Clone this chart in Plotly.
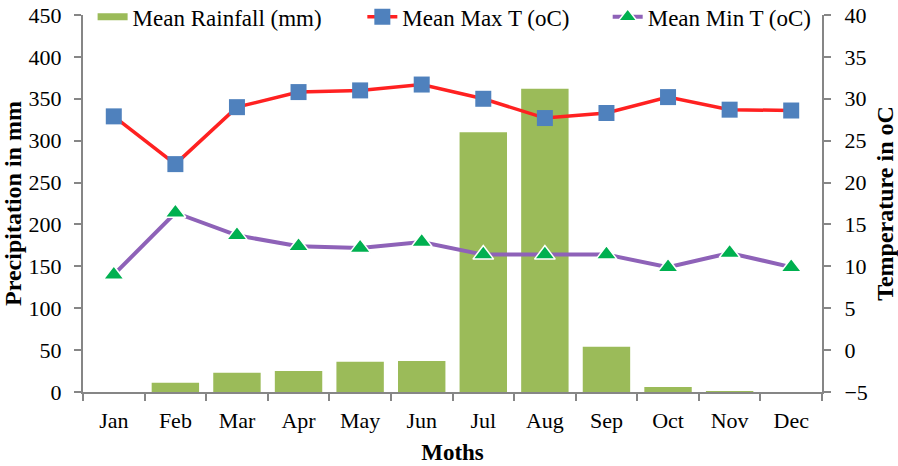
import plotly.graph_objects as go

months = ["Jan", "Feb", "Mar", "Apr", "May", "Jun", "Jul", "Aug", "Sep", "Oct", "Nov", "Dec"]
rainfall = [0, 11, 23, 25, 36, 37, 310, 362, 54, 6, 1, 0]
max_t = [27.9, 22.2, 29.0, 30.8, 31.0, 31.7, 30.0, 27.7, 28.3, 30.2, 28.7, 28.6]
min_t = [9.0, 16.4, 13.7, 12.4, 12.2, 12.9, 11.4, 11.4, 11.4, 9.9, 11.6, 9.9]

FONT = "Liberation Serif"
AXIS_COLOR = "#868686"
BAR_COLOR = "#9BBB59"
TICK_SIZE = 22

fig = go.Figure()

fig.add_trace(go.Bar(
    x=months, y=rainfall, name="Mean Rainfall (mm)",
    marker=dict(color=BAR_COLOR, line=dict(width=0)),
    showlegend=False, yaxis="y",
))
# legend entry for rainfall drawn as a thick line (like the original)
fig.add_trace(go.Scatter(
    x=[None], y=[None], mode="lines", name="Mean Rainfall (mm)",
    line=dict(color=BAR_COLOR, width=7), yaxis="y", legend="legend",
))
fig.add_trace(go.Scatter(
    x=months, y=max_t, name="Mean Max T (oC)", mode="lines+markers",
    line=dict(color="#FF2121", width=3.5),
    marker=dict(symbol="square", size=16, color="#4F81BD", line=dict(width=0)),
    yaxis="y2", legend="legend2",
))
fig.add_trace(go.Scatter(
    x=months, y=min_t, name="Mean Min T (oC)", mode="lines+markers",
    line=dict(color="#8E62B8", width=4),
    marker=dict(symbol="triangle-up", size=18, color="#00B050", line=dict(width=1.5, color="white")),
    yaxis="y2", legend="legend3",
))

leg_common = dict(
    orientation="h", xanchor="left", y=0.995, yanchor="middle",
    bgcolor="rgba(0,0,0,0)", font=dict(family=FONT, size=23, color="black"),
    borderwidth=0,
)

fig.update_layout(
    width=898, height=466,
    margin=dict(l=83, r=76, t=15, b=74, autoexpand=False),
    paper_bgcolor="white", plot_bgcolor="white",
    font=dict(family=FONT, size=TICK_SIZE, color="black"),
    bargap=0.23,
    showlegend=True,
    legend=dict(x=0.013, **leg_common),
    legend2=dict(x=0.378, **leg_common),
    legend3=dict(x=0.71, **leg_common),
    xaxis=dict(
        type="category", range=[-0.5, 11.5],
        showline=True, linecolor=AXIS_COLOR, linewidth=2,
        ticks="outside", tickson="boundaries", ticklen=7, tickcolor=AXIS_COLOR, tickwidth=2,
        showgrid=False, zeroline=False, automargin=False,
        ticklabelstandoff=8,
        title=dict(text="<b>Moths</b>", font=dict(family=FONT, size=23), standoff=11),
        tickfont=dict(family=FONT, size=TICK_SIZE),
    ),
    yaxis=dict(
        range=[0, 450], dtick=50, tick0=0,
        showline=True, linecolor=AXIS_COLOR, linewidth=2,
        ticks="outside", ticklen=7, tickcolor=AXIS_COLOR, tickwidth=2,
        showgrid=False, zeroline=False, automargin=False,
        ticklabelstandoff=8,
        title=dict(text="<b>Precipitation in mm</b>", font=dict(family=FONT, size=24), standoff=8),
        tickfont=dict(family=FONT, size=TICK_SIZE),
    ),
    yaxis2=dict(
        range=[-5, 40], dtick=5, tick0=-5, overlaying="y", side="right",
        showline=True, linecolor=AXIS_COLOR, linewidth=2,
        ticks="outside", ticklen=7, tickcolor=AXIS_COLOR, tickwidth=2,
        showgrid=False, zeroline=False, automargin=False,
        ticklabelstandoff=9,
        title=dict(text="<b>Temperature in oC</b>", font=dict(family=FONT, size=24), standoff=12),
        tickfont=dict(family=FONT, size=TICK_SIZE),
    ),
)

fig.write_html("out.html", config={"displayModeBar": False},
               post_script="document.body.style.margin='0';")
